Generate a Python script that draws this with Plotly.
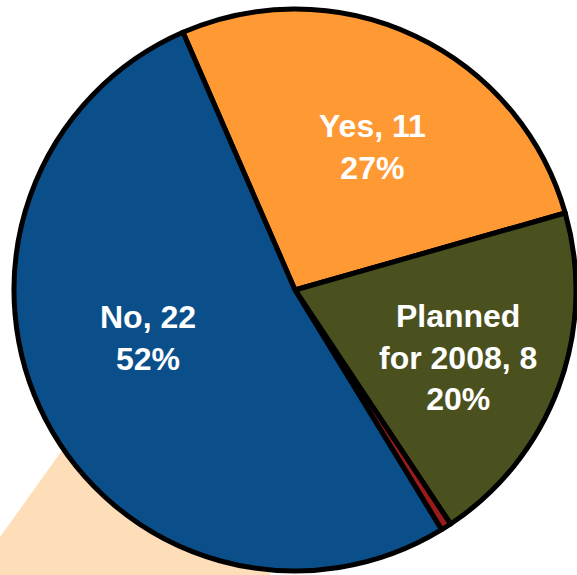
import plotly.graph_objects as go

# Survey answers: category, count and share of respondents
categories = ["Yes", "Planned for 2008", "Other", "No"]
counts = [11, 8, None, 22]
shares = [27, 20, 0.6, 52]
label_text = ["Yes, 11<br>27%", "Planned<br>for 2008, 8<br>20%", "", "No, 22<br>52%"]

slice_colors = ["#FF9933", "#4B511E", "#9B1B1B", "#0A4F8A"]
W, H = 577, 575


def px(x, y):
    """Pixel position -> paper coordinates."""
    return x / W, 1 - y / H


fig = go.Figure()

fig.add_trace(go.Pie(
    labels=categories,
    values=shares,
    sort=False,
    direction="clockwise",
    rotation=-23.5,
    marker=dict(colors=slice_colors, line=dict(color="#000000", width=5)),
    textinfo="none",
    hoverinfo="label+value",
    showlegend=False,
    domain=dict(x=[14 / W, 576 / W], y=[1 - 571 / H, 1 - 9 / H]),
))

# Light connector wedge running off the lower-left corner behind the pie
pts = [px(68, 442), px(-45, 600), px(270, 600), px(270, 420)]
path = "M " + " L ".join(f"{x:.4f},{y:.4f}" for x, y in pts) + " Z"
fig.add_shape(type="path", path=path, xref="paper", yref="paper",
              fillcolor="#FEDEB8", line=dict(width=0), layer="below")

# Slice labels
label_pos = {0: (372, 147), 1: (458, 357), 3: (148, 338)}
for i, (lx, ly) in label_pos.items():
    ax, ay = px(lx, ly)
    fig.add_annotation(
        x=ax, y=ay, xref="paper", yref="paper",
        text=f"<b>{label_text[i]}</b>", showarrow=False,
        xanchor="center", yanchor="middle", align="center",
        font=dict(family="Liberation Sans, Arial, sans-serif", size=32, color="#FFFFFF"),
    )

fig.update_layout(
    width=W, height=H,
    margin=dict(l=0, r=0, t=0, b=0),
    paper_bgcolor="#FFFFFF",
    plot_bgcolor="#FFFFFF",
)

fig.write_html("out.html")
